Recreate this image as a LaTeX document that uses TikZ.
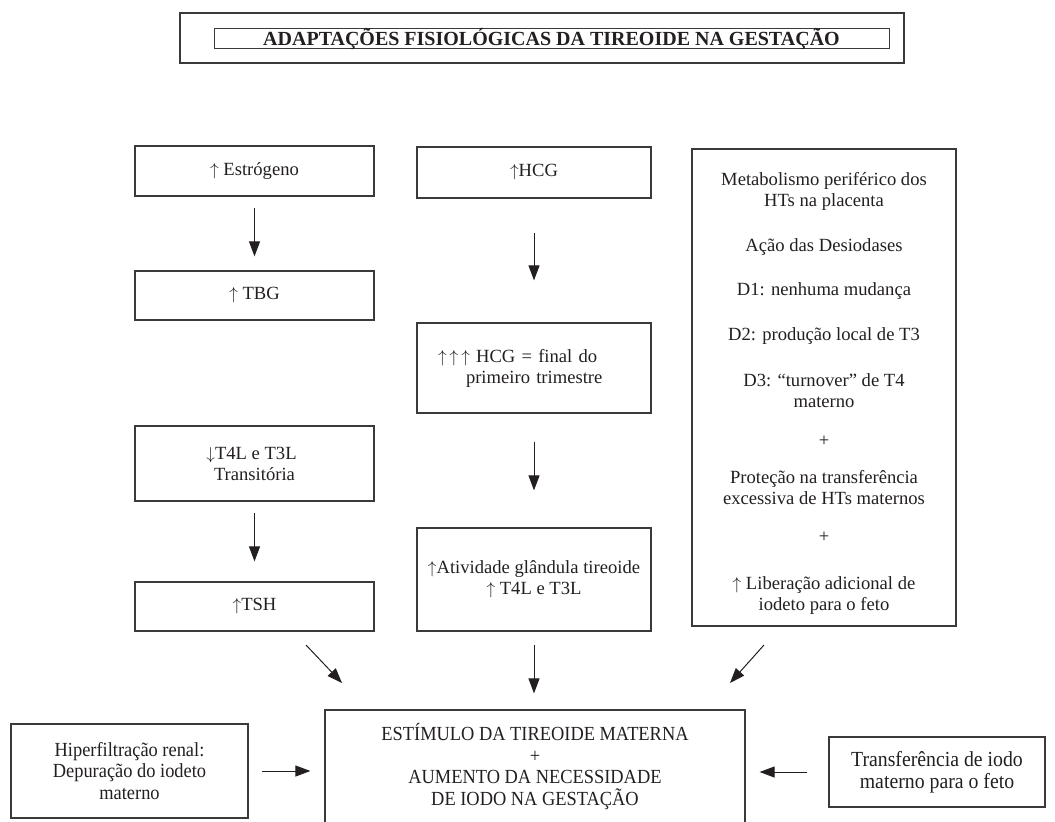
\documentclass[tikz,border=0pt]{standalone}
\usepackage{fontspec}
\setmainfont{Liberation Serif}
\newfontfamily\narrowserif{Liberation Serif}[FakeStretch=0.92]
\usetikzlibrary{arrows.meta}

\definecolor{ink}{HTML}{231F20}
\definecolor{framegray}{HTML}{3A3A3A}

% thin arrows used inside the texts
\newcommand{\upar}{$\uparrow$}
\newcommand{\downar}{$\downarrow$}

\tikzset{
  box/.style={draw=framegray, line width=1.2pt, inner sep=2pt, align=center,
              text=ink, font=\fontsize{18.6}{21}\selectfont},
  lowbox/.style={box, font=\narrowserif\fontsize{20}{21.5}\selectfont},
  plaintext/.style={inner sep=0pt, align=center, text=ink, font=\fontsize{18.6}{21}\selectfont},
  arr/.style={draw=ink, line width=1pt, -{Triangle[length=15pt,width=11pt]}},
}

\begin{document}
\begin{tikzpicture}[x=1pt,y=-1pt]
\useasboundingbox (0,0) rectangle (1055,822);

% title
\node[box, minimum width=724pt, minimum height=50pt] (frame) at (542,38) {};
\node[box, line width=1pt, minimum width=675pt, minimum height=20pt, inner sep=0pt,
      text height=14pt, text depth=0pt, font=\bfseries\fontsize{20}{22}\selectfont]
  (title) at (551.5,38) {ADAPTAÇÕES FISIOLÓGICAS DA TIREOIDE NA GESTAÇÃO};

% left column
\node[box, minimum width=239pt, minimum height=50pt] (estr) at (254.5,171) {\upar\ Estrógeno};
\node[box, minimum width=239pt, minimum height=49pt] (tbg) at (254.5,295.5) {\upar\ TBG};
\node[box, minimum width=239pt, minimum height=75pt] (t4l) at (254.5,463.5)
  {\downar T4L e T3L\hspace*{6pt}\\Transitória};
\node[box, minimum width=239pt, minimum height=49pt] (tsh) at (254.5,606.5) {\upar TSH};

% centre column
\node[box, minimum width=234pt, minimum height=51pt] (hcg) at (534,172.5) {\upar HCG};
\node[box, minimum width=234pt, minimum height=90pt, text width=192pt, inner xsep=21pt, align=left]
  (hcg3) at (534,368) {\upar\kern3pt\upar\kern3pt\upar\ HCG = final do\\\hspace*{28pt}primeiro trimestre};
\node[box, minimum width=234pt, minimum height=103pt] (atv) at (534,579.5)
  {\upar Atividade glândula tireoide\\\upar\ T4L e T3L};

% right column: frame and its text block
\node[box, minimum width=264pt, minimum height=477pt] (metab) at (824,387.5) {};
\node[plaintext] (metabtext) at (824,393) {%
  Metabolismo periférico dos\\HTs na placenta\\[24pt]
  Ação das Desiodases\\[23pt]
  D1: nenhuma mudança\\[24pt]
  D2: produção local de T3\\[25pt]
  D3: “turnover” de T4\\materno\\[18pt]
  +\\[16pt]
  Proteção na transferência\\excessiva de HTs maternos\\[17pt]
  +\\[26pt]
  \upar\ Liberação adicional de\\iodeto para o feto};

% bottom row
\node[lowbox, minimum width=237pt, minimum height=94pt] (hiper) at (129.5,771)
  {Hiperfiltração renal:\\Depuração do iodeto\\materno};
\node[lowbox, minimum width=420pt, minimum height=113pt] (main) at (535,766.5)
  {ESTÍMULO DA TIREOIDE MATERNA\\+\\AUMENTO DA NECESSIDADE\\DE IODO NA GESTAÇÃO};
\node[lowbox, font=\narrowserif\fontsize{21.5}{22}\selectfont,
      minimum width=216pt, minimum height=70pt] (transf) at (937,772)
  {Transferência de iodo\\materno para o feto};

% vertical connectors
\draw[arr, shorten <=11pt, shorten >=14pt] (estr.south) -- (tbg.north);
\draw[arr, shorten <=11pt, shorten >=20pt] (t4l.south) -- (tsh.north);
\draw[arr, shorten <=34pt, shorten >=42pt] (hcg.south) -- (hcg3.north);
\draw[arr, shorten <=28pt, shorten >=37pt] (hcg3.south) -- (atv.north);
\draw[arr, shorten <=13pt, shorten >=16pt] (atv.south) -- (atv.south |- main.north);

% diagonal connectors into the central box
\coordinate (tshout) at (306,645);
\coordinate (tshin) at (342,683);
\coordinate (metabout) at (764,645);
\coordinate (metabin) at (730,683);
\draw[arr] (tshout) -- (tshin);
\draw[arr] (metabout) -- (metabin);

% horizontal connectors
\draw[arr, shorten <=13pt, shorten >=14pt] (hiper.east) -- (hiper.east -| main.west);
\draw[arr, shorten <=21pt, shorten >=14pt] (transf.west) -- (transf.west -| main.east);
\end{tikzpicture}
\end{document}
